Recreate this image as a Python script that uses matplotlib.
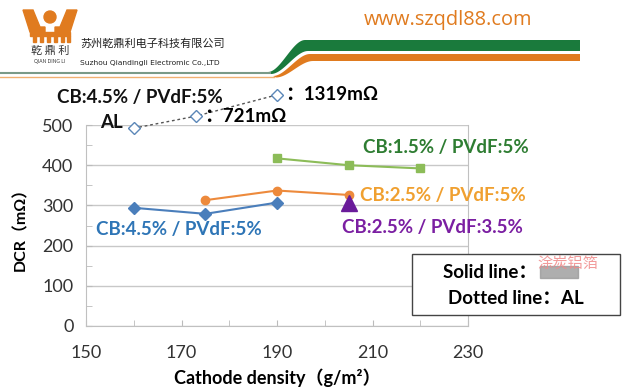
import matplotlib.pyplot as plt
import numpy as np
from matplotlib.patches import Polygon, Circle, Rectangle

plt.rcParams['font.family'] = ['Lato', 'Noto Sans CJK SC', 'DejaVu Sans']

# data
x_blue = [160, 175, 190]
y_blue = [294, 279, 307]
x_orange = [175, 190, 205]
y_orange = [313, 337, 326]
x_green = [190, 205, 220]
y_green = [417, 400, 392]
x_purple = [205]
y_purple = [305]
# AL points, drawn on a compressed scale above the axis
x_al = [160, 173, 190]
y_al = [492, 522, 575]
al_labels = ['', '：721mΩ', '：1319mΩ']

xticks = [150, 170, 190, 210, 230]
yticks = [0, 100, 200, 300, 400, 500]

fig = plt.figure(figsize=(6.22, 3.91), dpi=100)

# header / background layer in pixel coords
bg = fig.add_axes([0, 0, 1, 1])
bg.set_xlim(0, 622)
bg.set_ylim(391, 0)
bg.axis('off')

# logo
orange = '#e07b1f'
bg.add_patch(Polygon([[23, 10], [33, 10], [40, 27], [45, 27], [45, 32], [30, 32]], color=orange))
bg.add_patch(Polygon([[77, 10], [67, 10], [60, 27], [55, 27], [55, 32], [70, 32]], color=orange))
bg.add_patch(Circle((50, 17), 6, color=orange))
bg.add_patch(Rectangle((30, 32), 40, 4, color=orange))
for xx in [33, 40, 47, 54, 61, 67]:
    bg.add_patch(Rectangle((xx, 36), 2.5, 6, color=orange))
bg.text(50, 51, '乾 鼎 利', ha='center', va='center', fontsize=8,
        family=['Noto Sans CJK SC'], color='#333333')
bg.text(50, 62, 'QIAN DING LI', ha='center', va='center', fontsize=3.5, color='#333333')
bg.text(80, 44, '苏州乾鼎利电子科技有限公司', ha='left', va='center', fontsize=8,
        family=['Noto Sans CJK SC'], color='#222222')
bg.text(80, 63, 'Suzhou Qiandingli Electromic Co.,LTD', ha='left', va='center',
        fontsize=5.4, color='#222222', family=['DejaVu Sans Condensed', 'DejaVu Sans'])
bg.text(448, 20, 'www.szqdl88.com', ha='center', va='center', fontsize=14.4,
        color=orange, family=['Open Sans'])

# swoosh bands
t = np.linspace(0, 1, 30)
s = 3 * t**2 - 2 * t**3
cx = 268 + 37 * t
cy_top = 72 - 32 * s
bg.fill(np.concatenate([cx, [580, 580], (cx + 3)[::-1]]),
        np.concatenate([cy_top, [40, 51], (cy_top + 2 + 9 * s)[::-1]]), color='#1a7a3c', lw=0)
cy2 = 76 - 22 * s
bg.fill(np.concatenate([cx + 5, [580, 580], (cx + 8)[::-1]]),
        np.concatenate([cy2, [54, 61], (cy2 + 1.5 + 5.5 * s)[::-1]]), color=orange, lw=0)
bg.plot([0, 270], [73, 73], color='#7a9a88', lw=1.5)
bg.plot([0, 274], [77, 77], color='#f0b070', lw=1)

# main chart
ax = fig.add_axes([86 / 622, 1 - 326 / 391, 382 / 622, 201 / 391])
ax.set_facecolor('none')
ax.set_xlim(150, 230)
ax.set_ylim(0, 500)
ax.set_xticks(xticks)
ax.set_xticks(np.arange(150, 231, 10), minor=True)
ax.set_yticks(yticks)
ax.set_yticks(np.arange(0, 501, 50), minor=True)
ax.tick_params(which='both', direction='in', colors='#bbbbbb', labelcolor='#333333',
               labelsize=13, length=4)
ax.tick_params(axis='x', pad=14)
ax.tick_params(axis='y', pad=9)
ax.grid(axis='y', color='#c8c8c8', lw=1)
for sp in ['left', 'bottom', 'right']:
    ax.spines[sp].set_color('#c0c0c0')
ax.spines['top'].set_visible(False)

ax.plot(x_blue, y_blue, color='#4a7ebb', marker='D', ms=6, lw=1.5)
ax.plot(x_orange, y_orange, color='#ed8a3c', marker='o', ms=6, lw=1.5)
ax.plot(x_green, y_green, color='#8cbc58', marker='s', ms=6, lw=1.5)
ax.plot(x_purple, y_purple, color='#6a1b9a', marker='^', ms=11, lw=0)
ax.plot(x_al, y_al, color='#555555', ls=(0, (2, 2)), lw=1, clip_on=False, zorder=3)
ax.plot(x_al, y_al, lw=0, marker='D', ms=6, mfc='white', mec='#5b87b8', clip_on=False, zorder=4)
for xa, ya, lab in zip(x_al, y_al, al_labels):
    if lab:
        ax.annotate(lab, (xa, ya), xytext=(6, 0), textcoords='offset points',
                    va='center', ha='left', fontsize=13.5, fontweight='bold',
                    annotation_clip=False)

ax.set_xlabel('Cathode density（g/m²）', fontsize=13, fontweight='bold', labelpad=5)
ax.set_ylabel('DCR（mΩ）', fontsize=11.5, fontweight='bold', labelpad=10)

# overlay for labels and box
fg = fig.add_axes([0, 0, 1, 1])
fg.set_xlim(0, 622)
fg.set_ylim(391, 0)
fg.axis('off')

kw = dict(fontsize=13.5, fontweight='bold', va='center')
fg.text(57, 97, 'CB:4.5% / PVdF:5%', color='#111111', ha='left', **kw)
fg.text(100, 122, 'AL', color='#111111', ha='left', **kw)
fg.text(363, 148, 'CB:1.5% / PVdF:5%', color='#2e7d32', ha='left', **kw)
fg.text(360, 196, 'CB:2.5% / PVdF:5%', color='#f0a030', ha='left', **kw)
fg.text(342, 228, 'CB:2.5% / PVdF:3.5%', color='#7b1fa2', ha='left', **kw)
fg.text(96, 229, 'CB:4.5% / PVdF:5%', color='#2e75b6', ha='left', **kw)

fg.add_patch(Rectangle((412, 254), 208, 61, fc='white', ec='#444444', lw=1))
fg.add_patch(Rectangle((540, 266), 38, 12, color='#9a9a9a', alpha=0.8))
fg.text(537, 263, '涂炭铝箔', color='#f08a8a', fontsize=11, va='center', ha='left',
        family=['Noto Sans CJK SC'], alpha=0.85)
fg.text(537, 272, 'Solid line：', ha='right', **kw)
fg.text(516, 298, 'Dotted line：AL', ha='center', **kw)

fig.savefig('out.png', dpi=100, facecolor='white')
